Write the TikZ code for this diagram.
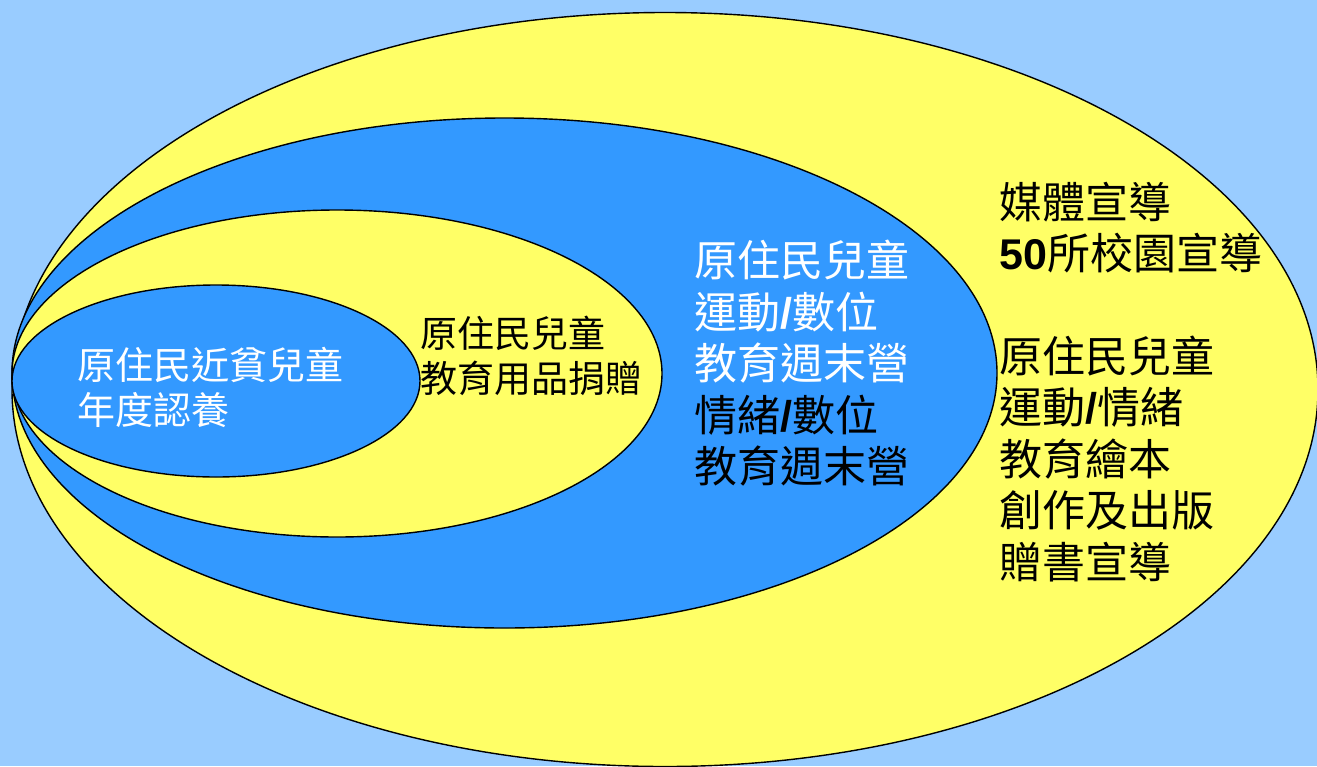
\documentclass[tikz,border=0pt]{standalone}
\usepackage{fontspec}
\newfontfamily\cjk{Noto Sans CJK TC}
\newfontfamily\lat{Liberation Sans}
\definecolor{bg}{HTML}{99CCFF}
\definecolor{yel}{HTML}{FFFF66}
\definecolor{blu}{HTML}{3399FF}
\newcommand{\slsh}{{\lat\bfseries /}}
\begin{document}
\begin{tikzpicture}[x=1pt,y=-1pt,
  ring/.style={draw=black,line width=1.4pt},
  txt/.style={anchor=west,align=left,inner sep=0pt}]
\fill[bg] (0,0) rectangle (1317,766);
\useasboundingbox (0,0) rectangle (1317,766);
\begin{scope}
\clip (0,0) rectangle (1317,766);
\draw[ring,fill=yel] (665,389.5) ellipse [x radius=653pt, y radius=377pt];
\end{scope}
\draw[ring,fill=blu] (504.5,373) ellipse [x radius=492.5pt, y radius=255pt];
\draw[ring,fill=yel] (337,373.5) ellipse [x radius=325pt, y radius=163.5pt];
\draw[ring,fill=blu] (216,381) ellipse [x radius=204pt, y radius=96pt];

\node[txt,text=white,font=\cjk\fontsize{38}{45}\selectfont] (t1) at (77,387.5)
  {原住民近貧兒童\\年度認養};
\node[txt,text=black,font=\cjk\fontsize{37}{45}\selectfont] (t2) at (420,355.5)
  {原住民兒童\\教育用品捐贈};
\node[txt,text=white,font=\cjk\fontsize{43}{51.5}\selectfont] (t3) at (694,363.5)
  {原住民兒童\\運動\slsh 數位\\教育週末營\\\textcolor{black}{情緒\slsh 數位}\\\textcolor{black}{教育週末營}};
\node[txt,text=black,font=\cjk\fontsize{43}{51.5}\selectfont] (t4) at (999,382)
  {媒體宣導\\{\lat\bfseries 50}所校園宣導\\[51pt]原住民兒童\\運動\slsh 情緒\\教育繪本\\創作及出版\\贈書宣導};
\end{tikzpicture}
\end{document}
